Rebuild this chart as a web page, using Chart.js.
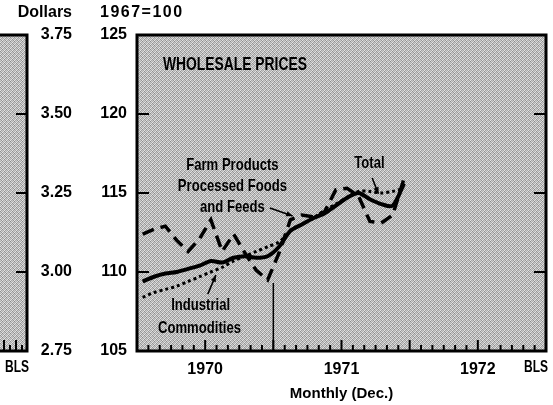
<!DOCTYPE html>
<html><head><meta charset="utf-8">
<script src="https://cdn.jsdelivr.net/npm/chart.js@4/dist/chart.umd.min.js"></script>
<style>html,body{margin:0;padding:0;background:#fff}#wrap{width:553px;height:405px;position:relative}</style>
</head><body><div id="wrap"><canvas id="c" width="553" height="405"></canvas></div>
<script>
// ---- data ----
const months = ['Jan 1970','Feb 1970','Mar 1970','Apr 1970','May 1970','Jun 1970','Jul 1970','Aug 1970','Sep 1970','Oct 1970','Nov 1970','Dec 1970',
                'Jan 1971','Feb 1971','Mar 1971','Apr 1971','May 1971','Jun 1971','Jul 1971','Aug 1971','Sep 1971','Oct 1971','Nov 1971','Dec 1971'];
const total      = [109.4,109.7,109.9,110.0,110.2,110.4,110.7,110.6,110.9,111.0,110.9,111.0,111.6,112.6,113.0,113.4,113.7,114.2,114.7,115.0,114.6,114.3,114.2,115.6];
const industrial = [108.4,108.7,108.9,109.1,109.4,109.7,110.0,110.3,110.7,111.0,111.3,111.6,111.9,112.6,113.0,113.4,113.9,114.3,114.7,115.1,115.1,115.0,115.1,115.3];
const farm       = [112.4,112.7,112.9,112.0,111.3,112.1,113.3,111.3,112.4,111.2,110.1,109.5,111.2,113.3,113.6,113.5,113.8,115.2,115.3,114.8,113.2,113.1,113.6,115.9];
const yearLabels  = ['1970','1971','1972'];
const yearCenters = [6,18,30];       // month position of each year label
const indexTicks  = [105,110,115,120,125];
const dollarTicks = [2.75,3.00,3.25,3.50,3.75];
const divider     = [{x:12,y:109.3},{x:12,y:105}];

const toPts = arr => arr.map((v,i)=>({x:i+0.5,y:v}));

// stipple pattern
const tile = document.createElement('canvas'); tile.width=4; tile.height=4;
(function(){const g=tile.getContext('2d');
 const s=[[200,150,228,168],[176,220,140,210],[228,160,200,166],[146,210,176,224]];
 for(let r=0;r<4;r++)for(let c=0;c<4;c++){g.fillStyle=`rgb(${s[r][c]},${s[r][c]},${s[r][c]})`;g.fillRect(c,r,1,1);} })();

const BOLD = "'Liberation Sans',Arial,sans-serif";

const labels = [
  {t:'WHOLESALE PRICES', x:2.28, y:123.1, align:'left', size:18},
  {t:'Farm Products',    x:8.4, y:116.77, align:'center', size:17},
  {t:'Processed Foods',  x:8.4, y:115.44, align:'center', size:17},
  {t:'and Feeds',        x:8.4, y:114.1,  align:'center', size:17},
  {t:'Total',            x:20.46, y:116.9, align:'center', size:17},
  {t:'Industrial',       x:5.6, y:107.9, align:'center', size:17},
  {t:'Commodities',      x:5.5, y:106.45, align:'center', size:17}
];
const arrows = [
  {x1:11.7,y1:114.05,x2:13.7,y2:113.55},
  {x1:20.7,y1:115.95,x2:21.25,y2:114.95},
  {x1:6.23,y1:108.6,x2:6.94,y2:109.8}
];

function narrowText(ctx, t, x, y, align, size, sx){
  ctx.save();
  ctx.font = 'bold '+size+'px '+BOLD;
  ctx.textAlign = align; ctx.textBaseline='middle';
  ctx.translate(x,y); ctx.scale(sx,1);
  ctx.fillText(t,0,0);
  ctx.restore();
}

const deco = {
  id:'deco',
  beforeDatasetsDraw(chart){
    const {ctx, chartArea:a} = chart;
    const pat = ctx.createPattern(tile,'repeat');
    ctx.save();
    ctx.fillStyle = pat;
    ctx.fillRect(a.left,a.top,a.right-a.left,a.bottom-a.top);
    ctx.fillRect(-10,a.top,a.left-110+10,a.bottom-a.top);
    ctx.restore();
  },
  afterDatasetsDraw(chart){
    const {ctx, chartArea:a, scales} = chart;
    const xs = scales.x, ys = scales.y, yd = scales.yD;
    ctx.save();
    ctx.strokeStyle='#000'; ctx.fillStyle='#000';
    ctx.lineWidth=3;
    ctx.strokeRect(a.left,a.top,a.right-a.left,a.bottom-a.top);
    const lpR = a.left-110;
    ctx.beginPath(); ctx.moveTo(-10,a.top); ctx.lineTo(lpR,a.top); ctx.lineTo(lpR,a.bottom); ctx.lineTo(-10,a.bottom); ctx.stroke();
    ctx.lineWidth=2;
    [110,115,120].forEach(v=>{const y=ys.getPixelForValue(v);
      ctx.beginPath(); ctx.moveTo(a.left,y); ctx.lineTo(a.left+12,y); ctx.moveTo(a.right,y); ctx.lineTo(a.right-12,y); ctx.stroke();});
    [3.00,3.25,3.50].forEach(v=>{const y=yd.getPixelForValue(v);
      ctx.beginPath(); ctx.moveTo(lpR,y); ctx.lineTo(lpR-11,y); ctx.stroke();});
    for(let m=1;m<36;m++){const x=xs.getPixelForValue(m); const L = m%6===0?11:6;
      ctx.beginPath(); ctx.moveTo(x,a.bottom); ctx.lineTo(x,a.bottom-L); ctx.stroke();}
    [4,10,16,22].forEach((x,i)=>{ctx.beginPath(); ctx.moveTo(x,a.bottom); ctx.lineTo(x,a.bottom-(i%2?6:11)); ctx.stroke();});
    labels.forEach(l=>narrowText(ctx, l.t, xs.getPixelForValue(l.x), ys.getPixelForValue(l.y), l.align, l.size, 0.77));
    ctx.lineWidth=1.6;
    arrows.forEach(r=>{
      const x1=xs.getPixelForValue(r.x1), y1=ys.getPixelForValue(r.y1), x2=xs.getPixelForValue(r.x2), y2=ys.getPixelForValue(r.y2);
      ctx.beginPath(); ctx.moveTo(x1,y1); ctx.lineTo(x2,y2); ctx.stroke();
      const ang=Math.atan2(y2-y1,x2-x1), h=7;
      ctx.beginPath(); ctx.moveTo(x2,y2);
      ctx.lineTo(x2-h*Math.cos(ang-0.4), y2-h*Math.sin(ang-0.4));
      ctx.lineTo(x2-h*Math.cos(ang+0.4), y2-h*Math.sin(ang+0.4)); ctx.closePath(); ctx.fill();
    });
    ctx.font = 'bold 16px '+BOLD;
    ctx.textBaseline='middle';
    ctx.textAlign='right';
    ctx.fillText('Dollars', yd.right-3, 13);
    ctx.textAlign='left';
    ctx.letterSpacing = '1.5px';
    ctx.fillText('1967=100', 100, 13);
    ctx.letterSpacing = '0px';
    narrowText(ctx,'BLS',5,368,'left',16,0.75);
    narrowText(ctx,'BLS',a.right+2,368,'right',16,0.75);
    ctx.restore();
  }
};

new Chart(document.getElementById('c'), {
  type:'line',
  data:{datasets:[
    {label:'Total', data:toPts(total), borderColor:'#000', borderWidth:4, pointRadius:0, tension:0.3},
    {label:'Industrial Commodities', data:toPts(industrial), borderColor:'#000', borderWidth:3, borderDash:[3,3], pointRadius:0, tension:0.3},
    {label:'Farm Products, Processed Foods and Feeds', data:toPts(farm), borderColor:'#000', borderWidth:3.5, borderDash:[12,7], pointRadius:0, tension:0},
    {label:'divider', data:divider, borderColor:'#000', borderWidth:1.5, pointRadius:0}
  ]},
  options:{
    responsive:false, animation:false, devicePixelRatio:1,
    layout:{padding:{top:35,right:7,bottom:1,left:0}},
    plugins:{legend:{display:false}, tooltip:{enabled:false}},
    scales:{
      x:{type:'linear', min:0, max:36,
         grid:{display:false, drawTicks:false}, border:{display:false},
         afterBuildTicks(s){s.ticks = yearCenters.map(v=>({value:v}));},
         afterFit(s){s.height=53;},
         ticks:{padding:9, color:'#000', font:{family:BOLD, size:16, weight:'bold'}, maxRotation:0,
                callback:(v)=>yearLabels[yearCenters.indexOf(v)]},
         title:{display:true, text:'Monthly (Dec.)', color:'#000', font:{family:BOLD, size:15, weight:'bold'}, padding:{top:0,bottom:1}}
      },
      y:{type:'linear', position:'left', weight:0, min:105, max:125,
         grid:{display:false, drawTicks:false}, border:{display:false},
         afterBuildTicks(s){s.ticks = indexTicks.map(v=>({value:v}));},
         afterFit(s){s.width=62;},
         ticks:{padding:10, color:'#000', font:{family:BOLD, size:16, weight:'bold'}}
      },
      yD:{type:'linear', position:'left', weight:1, min:2.75, max:3.75,
         grid:{display:false, drawTicks:false}, border:{display:false},
         afterBuildTicks(s){s.ticks = dollarTicks.map(v=>({value:v}));},
         afterFit(s){s.width=75;},
         ticks:{padding:3, color:'#000', font:{family:BOLD, size:16, weight:'bold'}, callback:v=>Number(v).toFixed(2)}
      }
    }
  },
  plugins:[deco]
});
</script></body></html>
